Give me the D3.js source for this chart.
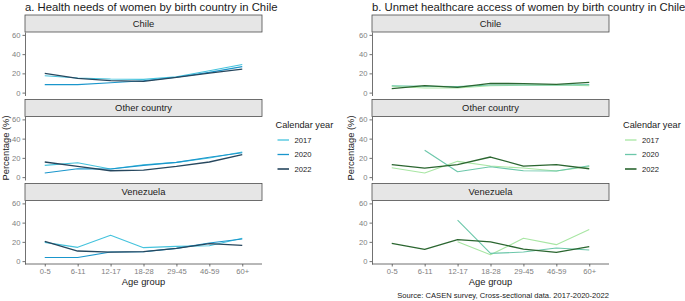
<!DOCTYPE html>
<html>
<head>
<meta charset="utf-8">
<script src="https://cdn.jsdelivr.net/npm/d3@7"></script>
<style>
  html, body { margin: 0; padding: 0; background: #fff; }
  svg { display: block; font-family: "Liberation Sans", Arial, sans-serif; }
</style>
</head>
<body>
<svg id="chart" width="685" height="301"></svg>
<script>
// ---------- DATA ----------
const ageGroups = ["0-5", "6-11", "12-17", "18-28", "29-45", "46-59", "60+"];
const years = ["2017", "2020", "2022"];
const facets = ["Chile", "Other country", "Venezuela"];
const yTicks = [0, 20, 40, 60];

// a. Health needs (%)
const needsChile2017 = [17.6, 15.2, 14.1, 13.8, 16.5, 22.8, 29.3];
const needsChile2020 = [8.3, 8.3, 10.3, 12.4, 15.9, 21.0, 27.0];
const needsChile2022 = [20.0, 14.8, 12.4, 11.7, 15.9, 20.3, 24.5];
const needsOther2017 = [12.2, 15.0, 8.4, 12.9, 15.3, 19.9, 26.1];
const needsOther2020 = [4.2, 8.7, 8.4, 12.2, 15.3, 20.6, 25.4];
const needsOther2022 = [15.7, 11.1, 6.6, 7.3, 11.1, 15.7, 23.3];
const needsVen2017 = [19.5, 14.3, 26.8, 14.0, 15.3, 16.0, 23.7];
const needsVen2020 = [3.8, 3.8, 9.4, 9.8, 13.2, 18.8, 23.0];
const needsVen2022 = [20.6, 10.5, 9.4, 9.8, 13.2, 18.1, 16.4];

// b. Unmet healthcare access (%)
const unmetChile2017 = [6.6, 4.8, 4.8, 7.2, 7.6, 7.9, 7.2];
const unmetChile2020 = [7.2, 6.6, 6.2, 7.9, 7.9, 7.9, 8.3];
const unmetChile2022 = [4.1, 7.2, 5.5, 9.7, 9.3, 8.6, 10.7];
const unmetOther2017 = [9.8, 4.2, 16.4, 11.5, 9.4, 6.3, 11.1];
const unmetOther2020 = [null, 27.9, 5.6, 10.8, 6.6, 6.3, 11.8];
const unmetOther2022 = [12.9, 9.4, 12.9, 20.9, 11.5, 12.9, 8.7];
const unmetVen2017 = [null, null, 20.2, 6.6, 23.7, 17.1, 32.8];
const unmetVen2020 = [null, null, 42.5, 8.0, 9.4, 13.6, 11.5];
const unmetVen2022 = [18.5, 12.2, 22.3, 19.9, 12.5, 9.1, 15.0];

const needsColors = ["#45c3dd", "#1a96cc", "#27475e"];
const unmetColors = ["#a8e6a3", "#6cc7aa", "#2b6630"];

const charts = [
  {
    title: "a. Health needs of women by birth country in Chile",
    colors: needsColors,
    data: [
      [needsChile2017, needsChile2020, needsChile2022],
      [needsOther2017, needsOther2020, needsOther2022],
      [needsVen2017, needsVen2020, needsVen2022]
    ],
    x0: 25, x1: 262, ylabX: 5.5, legendX: 275.5
  },
  {
    title: "b. Unmet healthcare access of women by birth country in Chile",
    colors: unmetColors,
    data: [
      [unmetChile2017, unmetChile2020, unmetChile2022],
      [unmetOther2017, unmetOther2020, unmetOther2022],
      [unmetVen2017, unmetVen2020, unmetVen2022]
    ],
    x0: 372, x1: 609, ylabX: 350.5, legendX: 623
  }
];

// ---------- LAYOUT ----------
const svg = d3.select("#chart");
const stripH = 17;
const panelTops = [15, 99.5, 183.5]; // strip tops
const panelH = 63.5;

charts.forEach(ch => {
  const g = svg.append("g");
  g.append("text")
    .attr("x", ch.x0).attr("y", 11)
    .attr("font-size", 11.3).attr("fill", "#1a1a1a")
    .text(ch.title);

  const x = d3.scalePoint().domain(ageGroups).range([ch.x0, ch.x1]).padding(0.6);

  facets.forEach((f, fi) => {
    const sTop = panelTops[fi];
    const pTop = sTop + stripH;
    const pBot = pTop + panelH;
    const y = d3.scaleLinear().domain([-3, 63]).range([pBot, pTop]);

    // strip
    g.append("rect")
      .attr("x", ch.x0).attr("y", sTop)
      .attr("width", ch.x1 - ch.x0).attr("height", stripH)
      .attr("fill", "#e6e6e6").attr("stroke", "#4d4d4d").attr("stroke-width", 0.8);
    g.append("text")
      .attr("x", (ch.x0 + ch.x1) / 2).attr("y", sTop + stripH / 2)
      .attr("dy", "0.35em").attr("text-anchor", "middle")
      .attr("font-size", 9.4).attr("fill", "#1a1a1a")
      .text(f);

    // y axis
    const ya = g.append("g").attr("transform", `translate(${ch.x0},0)`)
      .call(d3.axisLeft(y).tickValues(yTicks).tickSize(2.5).tickSizeOuter(0).tickPadding(2));
    ya.select(".domain").attr("stroke", "#4d4d4d").attr("stroke-width", 0.8);
    ya.selectAll(".tick line").attr("stroke", "#4d4d4d").attr("stroke-width", 0.8);
    ya.selectAll(".tick text").attr("font-size", 7.6).attr("fill", "#808080")
      .attr("font-family", "Liberation Sans, Arial, sans-serif");

    // x axis only on bottom panel
    if (fi === facets.length - 1) {
      const xa = g.append("g").attr("transform", `translate(0,${pBot})`)
        .call(d3.axisBottom(x).tickSize(2.5).tickSizeOuter(0).tickPadding(2));
      xa.select(".domain").attr("stroke", "#4d4d4d").attr("stroke-width", 0.8)
        .attr("d", `M${ch.x0},0H${ch.x1}`);
      xa.selectAll(".tick line").attr("stroke", "#4d4d4d").attr("stroke-width", 0.8);
      xa.selectAll(".tick text").attr("font-size", 7.6).attr("fill", "#808080")
        .attr("font-family", "Liberation Sans, Arial, sans-serif");
      g.append("text")
        .attr("x", (ch.x0 + ch.x1) / 2).attr("y", 284.5)
        .attr("text-anchor", "middle").attr("font-size", 9.4).attr("fill", "#1a1a1a")
        .text("Age group");
    }

    // lines
    const line = d3.line()
      .defined(d => d.v !== null)
      .x(d => x(d.a)).y(d => y(d.v));
    ch.data[fi].forEach((series, si) => {
      const pts = ageGroups.map((a, i) => ({ a: a, v: series[i] }));
      g.append("path")
        .attr("d", line(pts))
        .attr("fill", "none")
        .attr("stroke", ch.colors[si])
        .attr("stroke-width", si === 2 ? 1.3 : 1.1)
        .attr("stroke-linejoin", "round");
    });
  });

  // y axis title
  const yMid = (panelTops[0] + stripH + panelTops[2] + stripH + panelH) / 2;
  g.append("text")
    .attr("transform", `translate(${ch.ylabX},${yMid}) rotate(-90)`)
    .attr("text-anchor", "middle").attr("dy", "0.35em")
    .attr("font-size", 9.4).attr("fill", "#1a1a1a")
    .text("Percentage (%)");

  // legend
  const lg = g.append("g");
  lg.append("text").attr("x", ch.legendX).attr("y", 124.5).attr("dy", "0.35em")
    .attr("font-size", 9.2).attr("fill", "#1a1a1a").text("Calendar year");
  const ky = [140, 154.5, 169];
  years.forEach((yr, i) => {
    lg.append("line")
      .attr("x1", ch.legendX + 2).attr("x2", ch.legendX + 13.5)
      .attr("y1", ky[i]).attr("y2", ky[i])
      .attr("stroke", ch.colors[i]).attr("stroke-width", i === 2 ? 1.6 : 1.3);
    lg.append("text").attr("x", ch.legendX + 19).attr("y", ky[i]).attr("dy", "0.35em")
      .attr("font-size", 7.6).attr("fill", "#1a1a1a").text(yr);
  });
});

// caption
svg.append("text")
  .attr("x", 609).attr("y", 297.5)
  .attr("text-anchor", "end").attr("font-size", 7.6).attr("fill", "#1a1a1a")
  .text("Source: CASEN survey, Cross-sectional data. 2017-2020-2022");
</script>
</body>
</html>
